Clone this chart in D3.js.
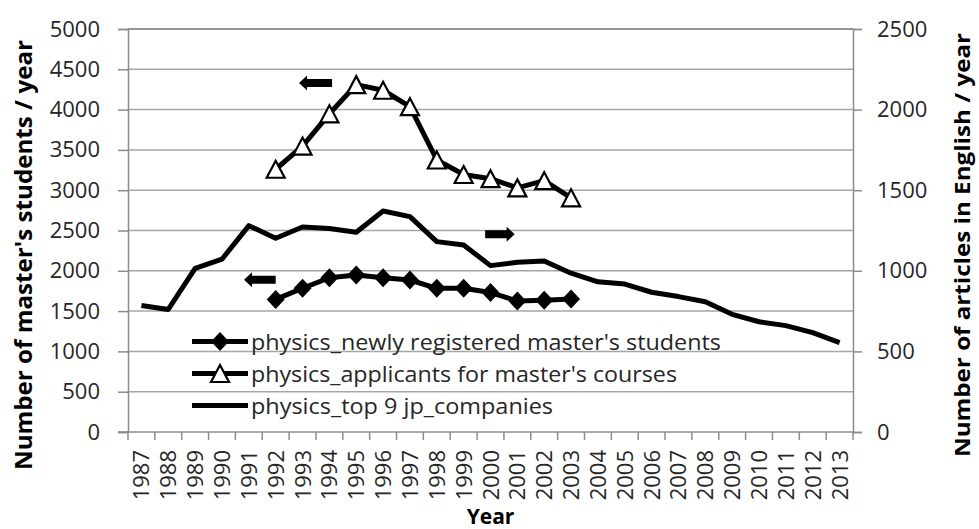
<!DOCTYPE html>
<html>
<head>
<meta charset="utf-8">
<script src="https://cdn.jsdelivr.net/npm/d3@7/dist/d3.min.js"></script>
<style>
  body { margin: 0; background: #fff; }
  svg { display: block; font-family: "Open Sans", sans-serif; }
</style>
</head>
<body>
<svg id="chart"></svg>
<script>
// categories
const years = ["1987","1988","1989","1990","1991","1992","1993","1994","1995","1996","1997","1998","1999",
               "2000","2001","2002","2003","2004","2005","2006","2007","2008","2009","2010","2011","2012","2013"];

// left axis series (1992-2003)
const masterYears = ["1992","1993","1994","1995","1996","1997","1998","1999","2000","2001","2002","2003"];
const newlyRegistered = [1645, 1783, 1914, 1948, 1914, 1886, 1783, 1783, 1730, 1625, 1635, 1650];
const applicants = [3260, 3548, 3948, 4310, 4240, 4036, 3375, 3195, 3143, 3029, 3118, 2905];

// right axis series (1987-2013)
const jpCompanies = [785, 760, 1015, 1072, 1280, 1202, 1272, 1262, 1239, 1371, 1336, 1181, 1160,
                     1032, 1053, 1061, 985, 932, 918, 867, 840, 808, 730, 684, 660, 616, 554];

const leftTicks = [0, 500, 1000, 1500, 2000, 2500, 3000, 3500, 4000, 4500, 5000];
const rightTicks = [0, 500, 1000, 1500, 2000, 2500];

const legendLabels = [
    "physics_newly registered master's students",
    "physics_applicants for master's courses",
    "physics_top 9 jp_companies"
];

const W = 979, H = 529;
const margin = {left: 128, right: 126, top: 29, bottom: 97};
const plotW = W - margin.left - margin.right;
const plotH = H - margin.top - margin.bottom;

const svg = d3.select("#chart").attr("width", W).attr("height", H);
const g = svg.append("g").attr("transform", `translate(${margin.left},${margin.top})`);

const x = d3.scaleBand().domain(years).range([0, plotW]);
const xc = d => x(d) + x.bandwidth() / 2;
// fractional year position for annotation arrows
const xYear = yr => (yr - 1987 + 0.5) * x.bandwidth();
const yL = d3.scaleLinear().domain([0, 5000]).range([plotH, 0]);
const yR = d3.scaleLinear().domain([0, 2500]).range([plotH, 0]);

// gridlines
g.append("g")
    .selectAll("line")
    .data(leftTicks.filter(t => t > 0))
    .enter().append("line")
    .attr("x1", 0).attr("x2", plotW)
    .attr("y1", d => yL(d)).attr("y2", d => yL(d))
    .attr("stroke", d => d === 5000 ? "#707070" : "#a6a6a6")
    .attr("stroke-width", 1.5);

// left axis
const axL = g.append("g")
    .call(d3.axisLeft(yL).tickValues(leftTicks).tickFormat(d3.format("d")).tickSize(10).tickPadding(18));
axL.select(".domain").attr("stroke", "#8c8c8c").attr("stroke-width", 1.5);
axL.selectAll(".tick line").attr("stroke", "#8c8c8c").attr("stroke-width", 1.5);
axL.selectAll("text").attr("font-size", 22).attr("fill", "#262626")
    .attr("font-family", "Open Sans, sans-serif");

// right axis
const axR = g.append("g").attr("transform", `translate(${plotW},0)`)
    .call(d3.axisRight(yR).tickValues(rightTicks).tickFormat(d3.format("d")).tickSize(9).tickPadding(15));
axR.select(".domain").attr("stroke", "#8c8c8c").attr("stroke-width", 1.5);
axR.selectAll(".tick line").attr("stroke", "#8c8c8c").attr("stroke-width", 1.5);
axR.selectAll("text").attr("font-size", 22).attr("fill", "#262626")
    .attr("font-family", "Open Sans, sans-serif");

// bottom axis: ticks between categories
const axB = g.append("g").attr("transform", `translate(0,${plotH})`);
axB.append("line").attr("x1", -10).attr("x2", plotW).attr("stroke", "#8c8c8c").attr("stroke-width", 1.5);
axB.selectAll(".bt")
    .data(years.concat(["end"]))
    .enter().append("line")
    .attr("x1", (d, i) => i * x.bandwidth()).attr("x2", (d, i) => i * x.bandwidth())
    .attr("y1", 0).attr("y2", 8)
    .attr("stroke", "#8c8c8c").attr("stroke-width", 1.5);
axB.selectAll(".yl")
    .data(years)
    .enter().append("text")
    .attr("transform", d => `translate(${xc(d) + 8},18) rotate(-90)`)
    .attr("text-anchor", "end")
    .attr("font-size", 22).attr("fill", "#262626")
    .text(d => d);

// series
const jpLine = d3.line().x((d, i) => xc(years[i])).y(d => yR(d));
g.append("path")
    .datum(jpCompanies)
    .attr("d", jpLine)
    .attr("fill", "none").attr("stroke", "#000").attr("stroke-width", 5)
    .attr("stroke-linejoin", "round");

const mLine = d3.line().x((d, i) => xc(masterYears[i])).y(d => yL(d));
g.append("path")
    .datum(applicants)
    .attr("d", mLine)
    .attr("fill", "none").attr("stroke", "#000").attr("stroke-width", 5)
    .attr("stroke-linejoin", "round");
g.append("path")
    .datum(newlyRegistered)
    .attr("d", mLine)
    .attr("fill", "none").attr("stroke", "#000").attr("stroke-width", 5)
    .attr("stroke-linejoin", "round");

const triPath = "M0,-8.5 L9,8.5 L-9,8.5 Z";
const diaPath = "M0,-9.5 L9,0 L0,9.5 L-9,0 Z";

g.selectAll(".tri")
    .data(applicants)
    .enter().append("path")
    .attr("d", triPath)
    .attr("transform", (d, i) => `translate(${xc(masterYears[i])},${yL(d)})`)
    .attr("fill", "#fff").attr("stroke", "#000").attr("stroke-width", 2.2);

g.selectAll(".dia")
    .data(newlyRegistered)
    .enter().append("path")
    .attr("d", diaPath)
    .attr("transform", (d, i) => `translate(${xc(masterYears[i])},${yL(d)})`)
    .attr("fill", "#000");

// annotation arrows (direction points to the axis the series belongs to)
const arrows = [
    {from: 1994.1, to: 1992.87, v: 4330},
    {from: 1992.0, to: 1990.82, v: 1890},
    {from: 1999.8, to: 2000.9, v: 2455}
];
arrows.forEach(a => {
    const x0 = xYear(a.from), x1 = xYear(a.to), yy = yL(a.v);
    const dir = Math.sign(x1 - x0);
    const head = 8;
    const xb = x1 - dir * head;
    g.append("path")
        .attr("d", `M${x0},${yy - 4} L${xb},${yy - 4} L${xb},${yy - 7.5} L${x1},${yy} L${xb},${yy + 7.5} L${xb},${yy + 4} L${x0},${yy + 4} Z`)
        .attr("fill", "#000");
});

// legend
const legY = [341.5, 373.5, 405.5];
const legEnd = [721, 677, 553];
const lg = svg.append("g");
legendLabels.forEach((lab, i) => {
    const yy = legY[i];
    lg.append("line")
        .attr("x1", 192).attr("x2", 248).attr("y1", yy).attr("y2", yy)
        .attr("stroke", "#000").attr("stroke-width", 5);
    if (i === 0) {
        lg.append("path").attr("d", diaPath).attr("transform", `translate(220,${yy})`).attr("fill", "#000");
    } else if (i === 1) {
        lg.append("path").attr("d", triPath).attr("transform", `translate(220,${yy})`)
            .attr("fill", "#fff").attr("stroke", "#000").attr("stroke-width", 2.2);
    }
    lg.append("text")
        .attr("x", 251).attr("y", yy + 8)
        .attr("font-size", 22).attr("fill", "#262626")
        .attr("textLength", legEnd[i] - 251).attr("lengthAdjust", "spacingAndGlyphs")
        .text(lab);
});

// axis titles
svg.append("text")
    .attr("transform", `translate(32,255) rotate(-90)`)
    .attr("text-anchor", "middle")
    .attr("font-size", 23).attr("font-weight", "bold")
    .attr("textLength", 430).attr("lengthAdjust", "spacingAndGlyphs")
    .text("Number of master's students / year");

svg.append("text")
    .attr("transform", `translate(970,245) rotate(-90)`)
    .attr("text-anchor", "middle")
    .attr("font-size", 22).attr("font-weight", "bold")
    .attr("textLength", 424).attr("lengthAdjust", "spacingAndGlyphs")
    .text("Number of articles in English / year");

svg.append("text")
    .attr("x", margin.left + plotW / 2).attr("y", 524)
    .attr("text-anchor", "middle")
    .attr("font-size", 21).attr("font-weight", "bold")
    .text("Year");
</script>
</body>
</html>
